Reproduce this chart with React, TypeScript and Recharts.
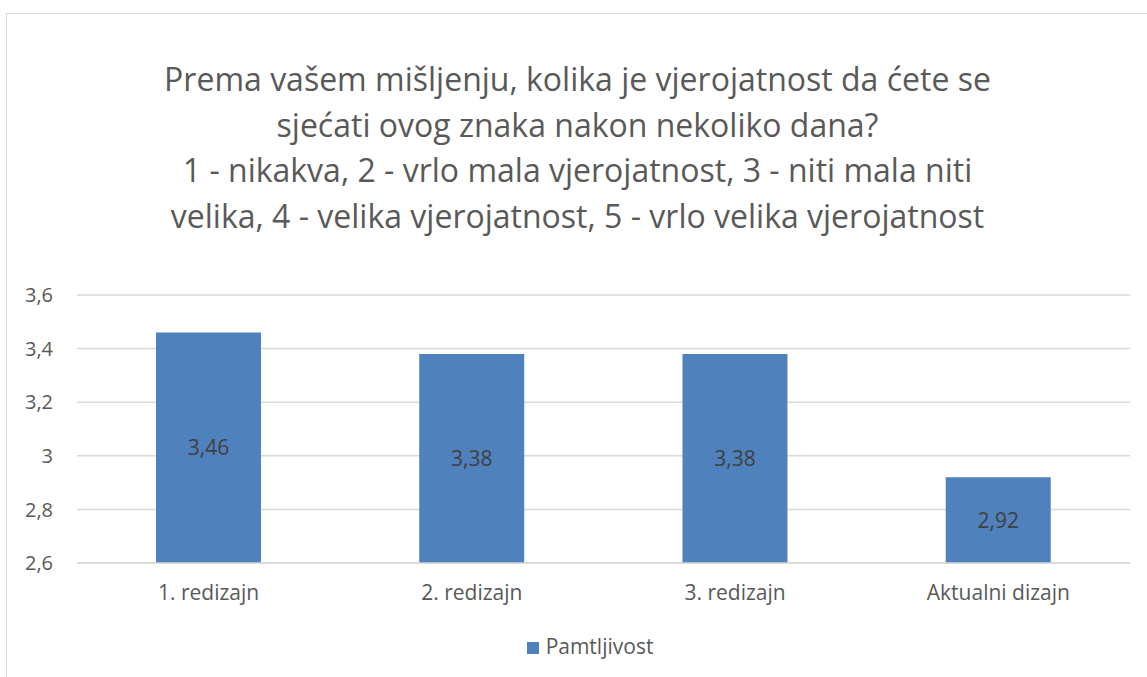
import { BarChart, Bar, XAxis, YAxis, CartesianGrid, Legend, LabelList } from "recharts"

// categories and values
const categories = ["1. redizajn", "2. redizajn", "3. redizajn", "Aktualni dizajn"]
const pamtljivost = [3.46, 3.38, 3.38, 2.92]
const yTicks = [2.6, 2.8, 3, 3.2, 3.4, 3.6]
const titleLines = [
  "Prema vašem mišljenju, kolika je vjerojatnost da ćete se",
  "sjećati ovog znaka nakon nekoliko dana?",
  "1 - nikakva, 2 - vrlo mala vjerojatnost, 3 - niti mala niti",
  "velika, 4 - velika vjerojatnost, 5 - vrlo velika vjerojatnost",
]

const data = categories.map((name, i) => ({ name, Pamtljivost: pamtljivost[i] }))

const FONT = "'Open Sans', sans-serif"
const TEXT = "#595959"
const BLUE = "#4F81BD"
const GRID = "#D9D9D9"

const comma = (v: number | string) => String(v).replace(".", ",")

export default function App() {
  return (
    <div style={{ position: "absolute", left: 0, top: 0, width: 1147, height: 677, overflow: "hidden", background: "#fff", fontFamily: FONT }}>
      {/* chart frame */}
      <div style={{ position: "absolute", left: 6, top: 13, width: 1160, height: 700, border: "1.5px solid #D9D9D9", boxSizing: "border-box" }} />
      <div
        style={{
          position: "absolute",
          left: 0,
          top: 56,
          width: 1155,
          textAlign: "center",
          fontSize: 32,
          lineHeight: "45.5px",
          color: TEXT,
        }}
      >
        {titleLines.map((l) => (
          <div key={l}>{l}</div>
        ))}
      </div>
      <div style={{ position: "absolute", left: 0, top: 0 }}>
        <BarChart
          width={1147}
          height={677}
          data={data}
          margin={{ top: 295, right: 17, left: 17, bottom: 15 }}
          barCategoryGap="30%"
        >
          <CartesianGrid vertical={false} stroke={GRID} strokeWidth={1.5} />
          <XAxis
            dataKey="name"
            height={69}
            tickLine={false}
            tickSize={0}
            tickMargin={22}
            axisLine={{ stroke: GRID, strokeWidth: 1.5 }}
            tick={{ fill: TEXT, fontSize: 21, fontFamily: FONT }}
          />
          <YAxis
            width={60}
            domain={[2.6, 3.6]}
            ticks={yTicks}
            tickFormatter={comma}
            axisLine={false}
            tickLine={false}
            tickSize={0}
            tickMargin={24}
            tick={{ fill: TEXT, fontSize: 20, fontFamily: FONT }}
          />
          <Legend
            verticalAlign="bottom"
            height={30}
            iconType="square"
            iconSize={12}
            wrapperStyle={{ left: 0, width: 1190, fontFamily: FONT, fontSize: 21 }}
            formatter={(v) => <span style={{ color: TEXT, marginLeft: 3 }}>{v}</span>}
          />
          <Bar dataKey="Pamtljivost" fill={BLUE} isAnimationActive={false}>
            <LabelList dataKey="Pamtljivost" position="center" formatter={comma} fill="#404040" fontSize={21} fontFamily={FONT} />
          </Bar>
        </BarChart>
      </div>
    </div>
  )
}
